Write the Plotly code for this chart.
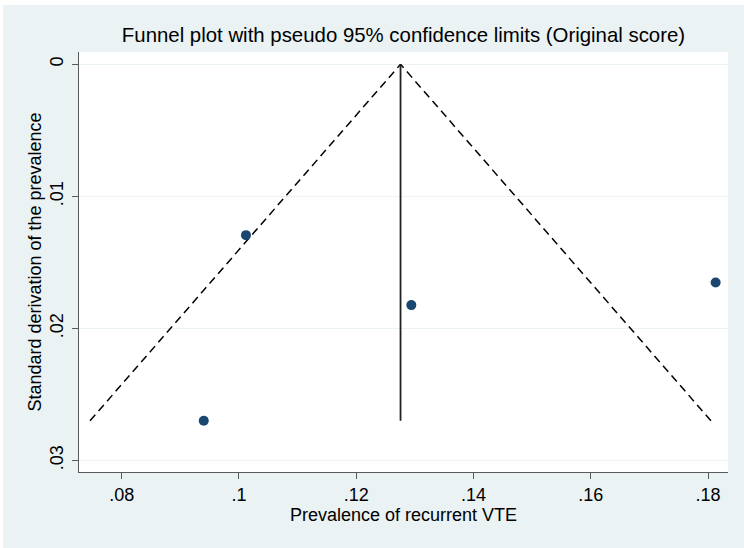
import plotly.graph_objects as go

# ---- data ----
prevalence = [0.1012, 0.1294, 0.0940, 0.1813]
std_dev = [0.01294, 0.01824, 0.0270, 0.01653]

pooled_x = [0.12756, 0.12756]
pooled_y = [0.0, 0.0270]

funnel_left_x = [0.0746, 0.12756]
funnel_right_x = [0.1805, 0.12756]
funnel_y = [0.0270, 0.0]

x_tickvals = [0.08, 0.10, 0.12, 0.14, 0.16, 0.18]
x_ticktext = [".08", ".1", ".12", ".14", ".16", ".18"]
y_tickvals = [0.0, 0.01, 0.02, 0.03]
y_ticktext = ["0", ".01", ".02", ".03"]

BG = "#EAF2F3"
NAVY = "#1A476F"
FONT = "Liberation Sans, Arial, Helvetica, sans-serif"

fig = go.Figure()

fig.add_trace(go.Scatter(x=funnel_left_x, y=funnel_y, mode="lines",
                         line=dict(color="black", width=1.5, dash="8px,5px"),
                         hoverinfo="skip", showlegend=False))
fig.add_trace(go.Scatter(x=funnel_right_x, y=funnel_y, mode="lines",
                         line=dict(color="black", width=1.5, dash="8px,5px"),
                         hoverinfo="skip", showlegend=False))
fig.add_trace(go.Scatter(x=pooled_x, y=pooled_y, mode="lines",
                         line=dict(color="#222222", width=1.8),
                         hoverinfo="skip", showlegend=False))
fig.add_trace(go.Scatter(x=prevalence, y=std_dev, mode="markers",
                         marker=dict(color=NAVY, size=10),
                         showlegend=False))

# outer light background (thin white margin at top/left) + white plot region
fig.add_shape(type="rect", xref="paper", yref="paper",
              x0=-0.117, x1=1.2, y0=-0.4, y1=1.112,
              fillcolor=BG, line=dict(width=0), layer="below")
fig.add_shape(type="rect", xref="paper", yref="paper",
              x0=0, x1=1, y0=0, y1=1,
              fillcolor="white", line=dict(width=0), layer="below")

fig.update_layout(
    width=744, height=548,
    paper_bgcolor="white", plot_bgcolor="white",
    margin=dict(l=79, r=16, t=52, b=76),
    font=dict(family=FONT, size=18, color="black"),
    title=dict(text="Funnel plot with pseudo 95% confidence limits (Original score)",
               x=0.5, xref="paper", xanchor="center",
               y=1 - 35 / 548, yref="container", yanchor="middle",
               font=dict(size=20.4, color="black")),
    showlegend=False,
)

fig.update_xaxes(range=[0.07272, 0.18341], tickvals=x_tickvals, ticktext=x_ticktext,
                 showgrid=False, zeroline=False, showline=True, linecolor="#5a5a5a",
                 linewidth=1.3, ticks="outside", ticklen=6, tickcolor="#5a5a5a",
                 tickfont=dict(size=18),
                 title=dict(text="Prevalence of recurrent VTE", font=dict(size=18), standoff=4))

fig.update_yaxes(range=[0.03088, -0.00093], tickvals=y_tickvals, ticktext=y_ticktext,
                 showgrid=True, gridcolor=BG, gridwidth=1.2, zeroline=False,
                 showline=True, linecolor="#5a5a5a", linewidth=1.3,
                 ticks="outside", ticklen=6, tickcolor="#5a5a5a",
                 tickangle=-90, tickfont=dict(size=18), ticklabelstandoff=2,
                 title=dict(text="Standard derivation of the prevalence", font=dict(size=18), standoff=0))

fig.write_html("out.html", config={"displayModeBar": False},
               post_script="document.body.style.margin='0px';")
